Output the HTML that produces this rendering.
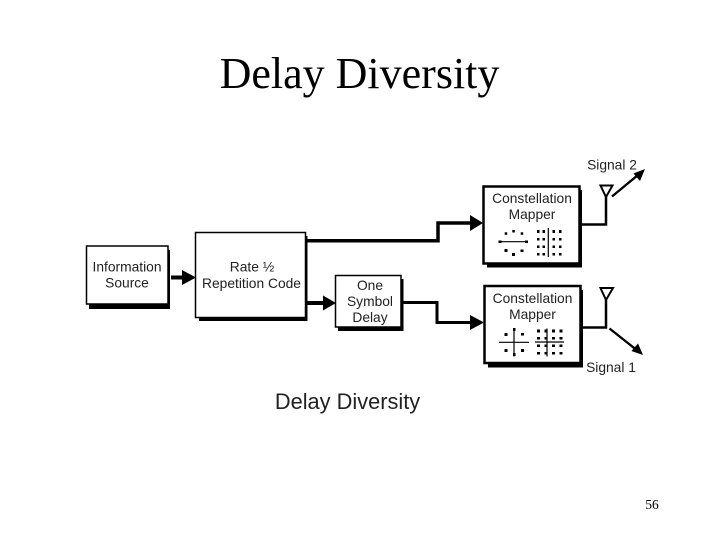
<!DOCTYPE html>
<html>
<head>
<meta charset="utf-8">
<style>
html,body{margin:0;padding:0;background:#fff}
svg{display:block}
.a{font-family:"Liberation Sans",sans-serif;fill:#222}
.t{font-family:"Liberation Serif",serif;fill:#000}
</style>
</head>
<body>
<svg width="720" height="540" viewBox="0 0 720 540" xmlns="http://www.w3.org/2000/svg">
<rect width="720" height="540" fill="#fff"/>
<text class="t" x="359.5" y="88" font-size="44" text-anchor="middle">Delay Diversity</text>

<!-- shadows -->
<g fill="#000">
<rect x="89" y="250" width="81" height="59"/>
<rect x="199" y="236" width="108.500" height="85"/>
<rect x="338" y="279" width="65.500" height="52"/>
<rect x="487" y="190" width="95" height="77.500"/>
<rect x="488" y="290" width="95" height="77.500"/>
</g>
<!-- boxes -->
<g fill="#fff" stroke="#000">
<rect x="86.500" y="246" width="81.500" height="58" stroke-width="1.500"/>
<rect x="195.500" y="232.500" width="110" height="85" stroke-width="1.500"/>
<rect x="335.500" y="275.500" width="65.500" height="51.500" stroke-width="1.500"/>
<rect x="483.500" y="186.500" width="96" height="77" stroke-width="2.500"/>
<rect x="484.500" y="286" width="96" height="77" stroke-width="2.500"/>
</g>

<!-- connectors -->
<g fill="none" stroke="#000">
<path d="M171 277.500H186" stroke-width="4"/>
<path d="M306 240.700H438V223H473" stroke-width="3.500"/>
<path d="M307 303H325" stroke-width="4"/>
<path d="M402 302.500H437V322.500H473" stroke-width="3"/>
</g>
<g fill="#000">
<polygon points="182,270 196,277.500 182,285"/>
<polygon points="323,295.500 336,303 323,310.500"/>
<polygon points="470,215 483,223 470,231"/>
<polygon points="470,315 484,322.500 470,330"/>
</g>

<!-- antennas -->
<g fill="none" stroke="#000">
<path d="M581 224.500H606V196" stroke-width="2.500"/>
<polygon points="600.500,185.500 612.500,185.500 606,197" stroke-width="2"/>
<path d="M612 196.500L638 175" stroke-width="2.300"/>
<path d="M581 327.500H606V300" stroke-width="2.500"/>
<polygon points="600.500,288 613,288 606,300" stroke-width="2"/>
<path d="M609.500 328.500L636 349.500" stroke-width="2.300"/>
</g>
<polygon points="645,169 633.500,173.500 640,181" fill="#000"/>
<polygon points="643,355 631.500,351 638,343.500" fill="#000"/>

<!-- text -->
<g class="a" text-anchor="middle" font-size="13.800">
<text x="127" y="271.500">Information</text>
<text x="127" y="287.500">Source</text>
<text x="252" y="271.500">Rate ½</text>
<text x="251.500" y="288">Repetition Code</text>
<text x="370" y="290">One</text>
<text x="370" y="306">Symbol</text>
<text x="370" y="322">Delay</text>
<text x="532" y="203">Constellation</text>
<text x="532" y="219">Mapper</text>
<text x="532.500" y="303">Constellation</text>
<text x="532.500" y="319">Mapper</text>
<text x="612" y="169.500">Signal 2</text>
<text x="611" y="372">Signal 1</text>
<text x="347.500" y="409" font-size="21.800">Delay Diversity</text>
</g>
<text class="t" x="652" y="509" font-size="13.500" text-anchor="middle">56</text>

<!-- constellation 1 -->
<g stroke="#000" stroke-width="1.200" fill="none">
<path d="M499 241.700H527.500M548.300 228V257"/>
</g>
<g fill="#000">
<rect x="504.700" y="232.300" width="2.500" height="2.500"/><rect x="512.300" y="230" width="2.500" height="2.500"/><rect x="520.700" y="232.300" width="2.500" height="2.500"/>
<rect x="498.500" y="240.500" width="3" height="2.500"/><rect x="525" y="240.500" width="3" height="2.500"/>
<rect x="504.500" y="249" width="3" height="3"/><rect x="512" y="253" width="3" height="3"/><rect x="520.500" y="249.500" width="3" height="2.500"/>
<g id="g1">
<rect x="537" y="230" width="2.500" height="3"/><rect x="542.500" y="230" width="2.500" height="3"/><rect x="552.500" y="230" width="2.500" height="3"/><rect x="559" y="230" width="2.500" height="3"/>
<rect x="537" y="238" width="2.500" height="2.500"/><rect x="542.500" y="238" width="2.500" height="2.500"/><rect x="552.500" y="238" width="2.500" height="2.500"/><rect x="559" y="238" width="2.500" height="2.500"/>
<rect x="537" y="245.500" width="2.500" height="2.500"/><rect x="542.500" y="245.500" width="2.500" height="2.500"/><rect x="552.500" y="245.500" width="2.500" height="2.500"/><rect x="559" y="245.500" width="2.500" height="2.500"/>
<rect x="537" y="253" width="2.500" height="2.500"/><rect x="542.500" y="253" width="2.500" height="2.500"/><rect x="552.500" y="253" width="2.500" height="2.500"/><rect x="559" y="253" width="2.500" height="2.500"/>
</g>
</g>

<!-- constellation 2 -->
<g stroke="#000" stroke-width="1.200" fill="none">
<path d="M499 342.300H529M514 328V356.500"/>
<path d="M535 342H564M547 328.500V356.500"/>
</g>
<g fill="#000">
<rect x="504.500" y="333" width="3" height="3"/><rect x="521" y="333" width="3" height="2.500"/>
<rect x="504.500" y="349" width="3" height="3"/><rect x="521" y="349" width="3" height="3"/>
<rect x="513" y="328" width="2.500" height="3"/><rect x="513" y="353" width="2.500" height="3"/>
<rect x="537" y="329.500" width="3" height="3"/><rect x="544.500" y="329.500" width="2.500" height="3"/><rect x="552" y="329.500" width="3" height="3"/><rect x="559.500" y="329.500" width="3" height="3"/>
<rect x="537" y="337" width="3" height="2.500"/><rect x="544.500" y="337" width="2.500" height="2.500"/><rect x="552" y="337" width="3" height="2.500"/><rect x="559.500" y="337" width="3" height="2.500"/>
<rect x="537" y="344.500" width="3" height="2.500"/><rect x="544.500" y="344.500" width="2.500" height="2.500"/><rect x="552" y="344.500" width="3" height="2.500"/><rect x="559.500" y="344.500" width="3" height="2.500"/>
<rect x="537" y="352" width="3" height="2.500"/><rect x="544.500" y="352" width="2.500" height="2.500"/><rect x="552" y="352" width="3" height="2.500"/><rect x="559.500" y="352" width="3" height="2.500"/>
</g>
</svg>
</body>
</html>
